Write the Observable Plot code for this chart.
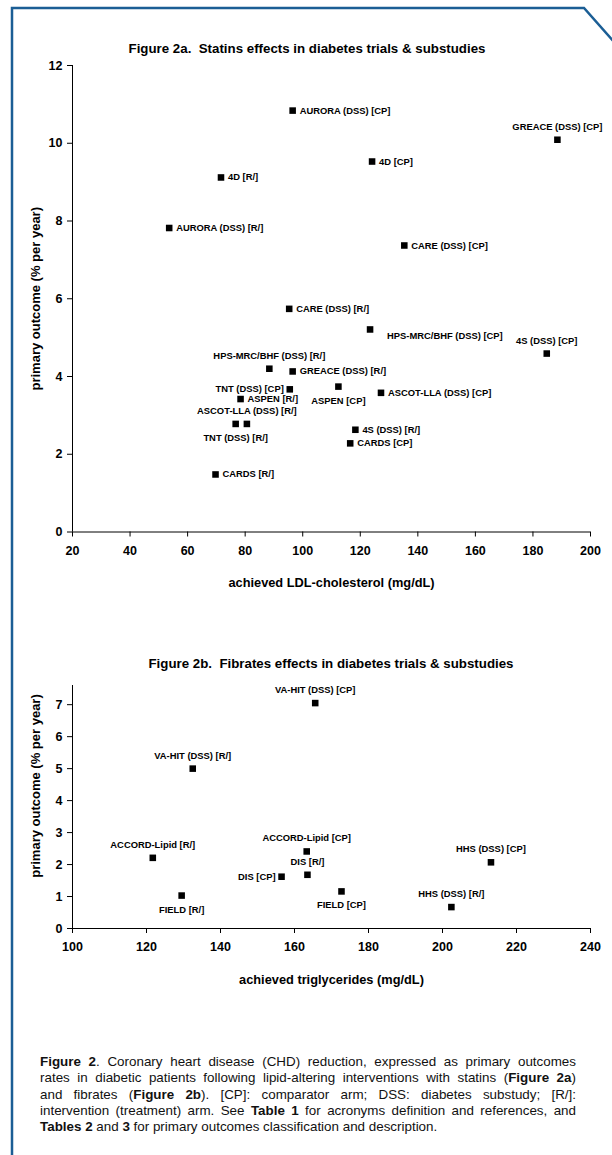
<!DOCTYPE html>
<html><head><meta charset="utf-8">
<script src="https://cdn.jsdelivr.net/npm/d3@7"></script>
<script src="https://cdn.jsdelivr.net/npm/@observablehq/plot@0.6"></script>
<style>
html,body{margin:0;padding:0;background:#fff;}
#page{position:relative;width:612px;height:1155px;overflow:hidden;background:#fff;}
.abs{position:absolute;}
.title{font-family:"Liberation Sans Narrow","Arial Narrow","Liberation Sans",Arial,sans-serif;font-weight:bold;font-size:13.3px;white-space:nowrap;transform:translate(-50%,-50%);color:#000;}
#caption{left:40px;top:1054px;width:536px;font-family:"Liberation Sans Narrow","Arial Narrow","Liberation Sans",Arial,sans-serif;font-size:13.4px;line-height:16.3px;color:#111;}
#caption .ln{white-space:nowrap;text-align:justify;text-align-last:justify;height:16.3px;}
#caption .ln.last{text-align-last:left;}
</style></head>
<body><div id="page">
<div id="chartA" class="abs" style="left:0;top:0"></div>
<div id="chartB" class="abs" style="left:0;top:640px"></div>
<div class="abs title" style="left:307px;top:48px">Figure 2a.&nbsp; Statins effects in diabetes trials &amp; substudies</div>
<div class="abs title" style="left:331px;top:663px">Figure 2b.&nbsp; Fibrates effects in diabetes trials &amp; substudies</div>
<div id="caption" class="abs">
<div class="ln"><b>Figure 2</b>. Coronary heart disease (CHD) reduction, expressed as primary outcomes</div>
<div class="ln">rates in diabetic patients following lipid-altering interventions with statins (<b>Figure 2a</b>)</div>
<div class="ln">and fibrates (<b>Figure 2b</b>). [CP]: comparator arm; DSS: diabetes substudy; [R/]:</div>
<div class="ln">intervention (treatment) arm. See <b>Table 1</b> for acronyms definition and references, and</div>
<div class="ln last"><b>Tables 2</b> and <b>3</b> for primary outcomes classification and description.</div>
</div>
<svg class="abs" style="left:0;top:0" width="612" height="1155"><path d="M12,1160 L12,8 L584,8 L614,42" fill="none" stroke="#1b5e95" stroke-width="2.5"/></svg>
</div>
<script>
const NARROW = '"Liberation Sans Narrow","Arial Narrow","Liberation Sans",Arial,sans-serif';

// Figure 2a — statins
const statinTrials = ["AURORA (DSS) [CP]","GREACE (DSS) [CP]","4D [R/]","4D [CP]","AURORA (DSS) [R/]","CARE (DSS) [CP]","CARE (DSS) [R/]","HPS-MRC/BHF (DSS) [CP]","4S (DSS) [CP]","HPS-MRC/BHF (DSS) [R/]","GREACE (DSS) [R/]","TNT (DSS) [CP]","ASPEN [R/]","ASPEN [CP]","ASCOT-LLA (DSS) [CP]","ASCOT-LLA (DSS) [R/]","TNT (DSS) [R/]","4S (DSS) [R/]","CARDS [CP]","CARDS [R/]"];
const statinLDL = [96.5,188.5,71.6,124.1,53.6,135.3,95.3,123.4,184.8,88.4,96.5,95.5,78.4,112.4,127.2,80.6,76.7,118.3,116.5,69.7];
const statinRate = [10.84,10.09,9.12,9.53,7.82,7.37,5.74,5.21,4.59,4.20,4.13,3.67,3.42,3.74,3.58,2.78,2.78,2.63,2.28,1.48];
const statinLabelSide = ["r","a","r","r","r","r","r","rl","a","a","r","l","r","b","r","a","b","r","r","r"];
const statinXTicks = [20,40,60,80,100,120,140,160,180,200];
const statinYTicks = [0,2,4,6,8,10,12];

// Figure 2b — fibrates
const fibrateTrials = ["VA-HIT (DSS) [CP]","VA-HIT (DSS) [R/]","ACCORD-Lipid [R/]","ACCORD-Lipid [CP]","DIS [R/]","DIS [CP]","FIELD [R/]","FIELD [CP]","HHS (DSS) [R/]","HHS (DSS) [CP]"];
const fibrateTG = [165.6,132.5,121.7,163.3,163.5,156.5,129.5,172.7,202.4,213.1];
const fibrateRate = [7.05,5.0,2.21,2.41,1.68,1.62,1.03,1.16,0.67,2.07];
const fibrateLabelSide = ["a","a","a","a","a","l","b","b","a","a"];
const fibrateXTicks = [100,120,140,160,180,200,220,240];
const fibrateYTicks = [0,1,2,3,4,5,6,7];

const sides = {
  a: {dx: 0, dy: -13, anchor: "middle"},
  b: {dx: 0, dy: 14, anchor: "middle"},
  r: {dx: 7, dy: 0, anchor: "start"},
  l: {dx: -6, dy: 0, anchor: "end"},
  rl: {dx: 17, dy: 7, anchor: "start"}
};

function scatter(o) {
  const data = o.labels.map((t, i) => ({t, x: o.xs[i], y: o.ys[i], p: o.side[i]}));
  const labelMarks = Object.entries(sides).map(([k, s]) =>
    Plot.text(data, {filter: d => d.p === k, x: "x", y: "y", text: "t", dx: s.dx, dy: s.dy,
      textAnchor: s.anchor, fontSize: 9.4, fill: "#000"}));
  return Plot.plot({
    width: 612, height: o.height,
    marginLeft: 72, marginRight: 22, marginTop: o.marginTop, marginBottom: o.marginBottom,
    style: {fontFamily: NARROW, fontWeight: "bold", fontSize: "12px", color: "#000", background: "transparent", overflow: "visible"},
    x: {domain: o.xDomain, axis: null},
    y: {domain: o.yDomain, axis: null},
    marks: [
      Plot.axisX({ticks: o.xTicks, tickSize: 5, tickPadding: 9, label: null, fontSize: 12.5}),
      Plot.axisY({ticks: o.yTicks, tickSize: 5, tickPadding: 5, label: null, fontSize: 12.5}),
      Plot.ruleX([o.xDomain[0]], {y1: o.yDomain[0], y2: o.yDomain[1], stroke: "#000"}),
      Plot.ruleY([o.yDomain[0]], {stroke: "#000"}),
      Plot.dot(data, {x: "x", y: "y", symbol: "square", r: 3.7, fill: "#000", stroke: null}),
      ...labelMarks,
      Plot.text([o.xTitle], {frameAnchor: "bottom", dy: o.xTitleDy, lineAnchor: "middle", textAnchor: "middle", fontSize: 12.8, fill: "#000"}),
      Plot.text([o.yTitle], {frameAnchor: "left", dx: -37, dy: o.yTitleDy, rotate: -90, textAnchor: "middle", lineAnchor: "middle", fontSize: 13, fill: "#000"})
    ]
  });
}

document.getElementById("chartA").append(scatter({
  labels: statinTrials, xs: statinLDL, ys: statinRate, side: statinLabelSide,
  xTicks: statinXTicks, yTicks: statinYTicks, xDomain: [20, 200], yDomain: [0, 12],
  height: 600, marginTop: 65, marginBottom: 68.5,
  xTitle: "achieved LDL-cholesterol (mg/dL)", xTitleDy: 51,
  yTitle: "primary outcome (% per year)", yTitleDy: 0
}));

document.getElementById("chartB").append(scatter({
  labels: fibrateTrials, xs: fibrateTG, ys: fibrateRate, side: fibrateLabelSide,
  xTicks: fibrateXTicks, yTicks: fibrateYTicks, xDomain: [100, 240], yDomain: [0, 7.6],
  height: 360, marginTop: 45, marginBottom: 72,
  xTitle: "achieved triglycerides (mg/dL)", xTitleDy: 51,
  yTitle: "primary outcome (% per year)", yTitleDy: -21
}));
</script>
</body></html>
